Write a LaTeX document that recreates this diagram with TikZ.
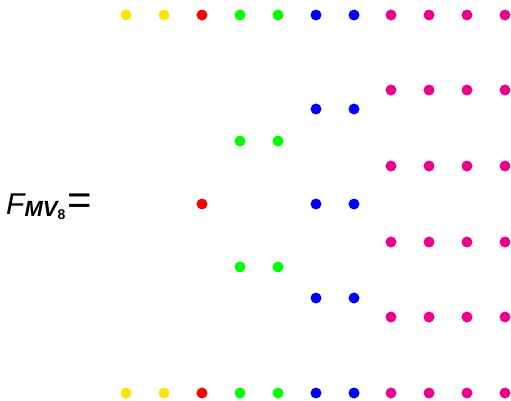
\documentclass[tikz,border=0pt]{standalone}
\usepackage{fontspec}
\setmainfont{Liberation Sans}
\usetikzlibrary{positioning}
\definecolor{dotyellow}{RGB}{255,230,0}
\definecolor{dotred}{RGB}{255,0,0}
\definecolor{dotgreen}{RGB}{0,255,0}
\definecolor{dotblue}{RGB}{0,0,255}
\definecolor{dotpink}{RGB}{236,0,140}
\tikzset{dot/.style={circle,inner sep=0pt,minimum size=11pt}}
\begin{document}
\begin{tikzpicture}[x=1pt,y=-1pt]
  \useasboundingbox (0,0) rectangle (511,400);
  % label
  \node[anchor=base west,inner sep=0pt] (lbl) at (6,214)
    {\fontsize{30}{30}\selectfont\itshape F\raisebox{-2pt}{\bfseries\fontsize{22}{22}\selectfont MV\raisebox{-3pt}{\upshape\fontsize{14}{14}\selectfont 8}}%
     \upshape\hspace{2pt}\fontsize{42}{42}\selectfont=};
  % top and bottom rows
  \foreach \x/\c [count=\i] in {126/dotyellow,164/dotyellow,202/dotred,240/dotgreen,278/dotgreen,
      316/dotblue,354/dotblue,391/dotpink,429/dotpink,467/dotpink,505/dotpink} {
    \node[dot,fill=\c] (t\i) at (\x,15) {};
    \node[dot,fill=\c] (b\i) at (\x,393) {};
  }
  % red
  \node[dot,fill=dotred] (r1) at (202,204) {};
  % green
  \foreach \x [count=\i] in {240,278}
    \foreach \y [count=\j] in {141,267}
      \node[dot,fill=dotgreen] (g\i\j) at (\x,\y) {};
  % blue
  \foreach \x [count=\i] in {316,354}
    \foreach \y [count=\j] in {109,204,298}
      \node[dot,fill=dotblue] (u\i\j) at (\x,\y) {};
  % pink
  \foreach \x [count=\i] in {391,429,467,505}
    \foreach \y [count=\j] in {90,166,242,317}
      \node[dot,fill=dotpink] (p\i\j) at (\x,\y) {};
\end{tikzpicture}
\end{document}
